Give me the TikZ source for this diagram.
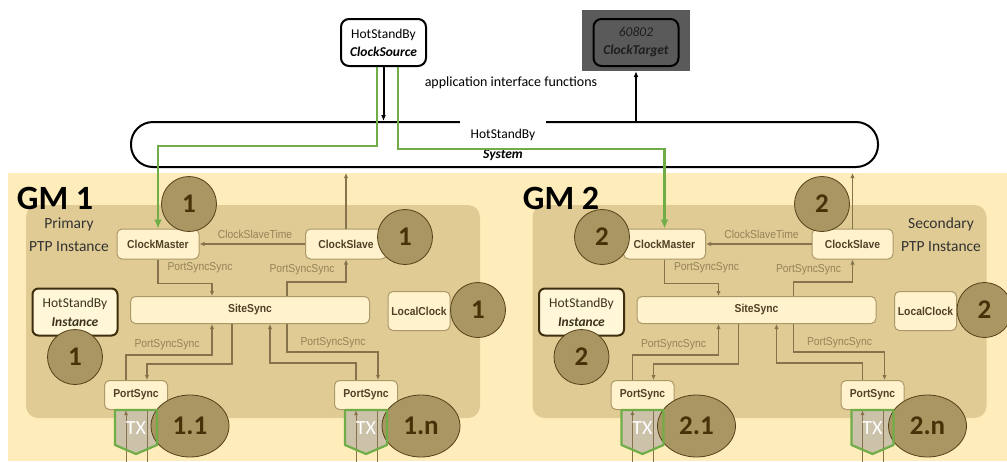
\documentclass[tikz,border=0pt]{standalone}
\usepackage{fontspec}
\setmainfont{Carlito}
\newfontfamily\arialn[FakeStretch=0.9]{Liberation Sans}
\usetikzlibrary{shapes.geometric,arrows.meta,calc}

\definecolor{bgyel}{RGB}{254,237,186}
\definecolor{panel}{RGB}{223,203,147}
\definecolor{circfill}{RGB}{170,150,98}
\definecolor{circline}{RGB}{85,65,25}
\definecolor{circtext}{RGB}{70,50,8}
\definecolor{boxfill}{RGB}{255,242,204}
\definecolor{boxline}{RGB}{172,152,104}
\definecolor{boxtext}{RGB}{80,66,40}
\definecolor{lnc}{RGB}{135,115,75}
\definecolor{lbl}{RGB}{150,130,88}
\definecolor{grn}{RGB}{112,173,71}
\definecolor{txfill}{RGB}{204,194,170}
\definecolor{tgtbg}{RGB}{90,90,90}
\definecolor{tgttext}{RGB}{30,30,30}
\definecolor{instfill}{RGB}{255,247,216}
\definecolor{instline}{RGB}{62,46,14}
\definecolor{insttext}{RGB}{60,50,30}

\tikzset{
  pbox/.style={draw=boxline, fill=boxfill, line width=1pt, rounded corners=5pt,
    text=boxtext, font=\arialn\bfseries\fontsize{11.5}{12}\selectfont, inner sep=0pt},
  numc/.style={circle, fill=circfill, draw=circline, line width=0.8pt, minimum size=55pt,
    inner sep=0pt, text=circtext, font=\bfseries\fontsize{27}{27}\selectfont},
  nume/.style={ellipse, fill=circfill, draw=circline, line width=0.8pt, minimum width=78pt,
    minimum height=62pt, inner sep=0pt, text=circtext, font=\bfseries\fontsize{27}{27}\selectfont},
  conn/.style={draw=lnc, line width=1.1pt, -{Latex[length=5pt,width=4.5pt]}},
  lab/.style={text=lbl, font=\arialn\fontsize{11.5}{12}\selectfont, inner sep=0pt},
  garrow/.style={draw=grn, line width=2.2pt, -{Latex[length=9pt,width=8pt]}},
  barrow/.style={draw=black, line width=2pt, -{Latex[length=6pt,width=5pt]}},
  instbox/.style={draw=instline, fill=instfill, line width=2pt, rounded corners=6pt,
    minimum width=85pt, minimum height=47pt, inner sep=0pt, align=center,
    text=insttext, font=\fontsize{13.5}{19}\selectfont},
  topbox/.style={draw=black, line width=2pt, rounded corners=8pt, minimum width=85pt,
    minimum height=47pt, inner sep=0pt, align=center, font=\fontsize{13.5}{18}\selectfont},
  gmtitle/.style={font=\bfseries\fontsize{34}{34}\selectfont, inner sep=0pt},
  roletext/.style={align=center, font=\fontsize{15.5}{23}\selectfont, text=black!80, inner sep=0pt},
}

\newcommand\gmpanel[3]{%
\begin{scope}[xshift=#2pt]
  \fill[panel, rounded corners=12pt] (26,205) rectangle (480,418);
  \node[pbox, minimum width=82pt, minimum height=30pt] (cm#1) at (158,244) {ClockMaster};
  \node[pbox, minimum width=81pt, minimum height=30pt] (cs#1) at (346,244) {ClockSlave};
  \node[pbox, minimum width=239pt, minimum height=27pt] (ss#1) at (250,310) {SiteSync};
  \node[pbox, minimum width=62pt, minimum height=39pt] (lc#1) at (419,311) {LocalClock};
  \node[pbox, minimum width=63pt, minimum height=29pt] (pa#1) at (136,395) {PortSync};
  \node[pbox, minimum width=63pt, minimum height=29pt] (pb#1) at (366,395) {PortSync};
  \node[instbox] (in#1) at (75,312) {HotStandBy\\\textbf{\textit{Instance}}};
  % connectors
  \draw[conn] (cs#1.west) -- (cm#1.east);
  \node[lab] (lt#1) at (255,234) {ClockSlaveTime};
  \draw[conn] (cs#1.north) -- ([yshift=-5pt]cs#1.north |- sys.south);
  \draw[conn] (cm#1.south) -- ++(0,24) -| ([xshift=-38pt]ss#1.north);
  \node[lab] (la#1) at (200,268) {PortSyncSync};
  \draw[conn] ([xshift=37pt]ss#1.north) -- ++(0,-14) -| (cs#1.south);
  \node[lab] (lb#1) at (302,270) {PortSyncSync};
  \draw[conn] ([xshift=-10pt]pa#1.north) -- ++(0,-25) -| ([xshift=-38pt]ss#1.south);
  \node[lab] (lc#1l) at (167,345) {PortSyncSync};
  \draw[conn] ([xshift=-18pt]ss#1.south) -- ++(0,40) -| ([xshift=11pt]pa#1.north);
  \draw[conn] ([xshift=37pt]ss#1.south) -- ++(0,28) -| ([xshift=12pt]pb#1.north);
  \node[lab] (ld#1) at (333,343) {PortSyncSync};
  \draw[conn] ([xshift=-10pt]pb#1.north) -- ++(0,-17) -| ([xshift=20pt]ss#1.south);
  % TX shapes
  \foreach \p in {pa,pb}{
    \fill[txfill] ([xshift=-21pt]\p#1.south) -- ++(42,0) -- ++(0,35) -- ++(-21,9) -- ++(-21,-9) -- cycle;
    \draw[lnc, line width=1pt, {Latex[length=5pt,width=4pt]}-] ([xshift=-10pt]\p#1.south) -- ++(0,55);
    \draw[lnc, line width=1pt] ([xshift=11pt]\p#1.south) -- ++(0,55);
  }
  \node[nume] (ea#1) at (190,426) {#3.1};
  \node[nume] (eb#1) at (421,426) {#3.n};
  \foreach \p in {pa,pb}{
    \draw[grn, line width=2.2pt, line join=round] ([xshift=-21pt]\p#1.south) -- ++(42,0) -- ++(0,35) -- ++(-21,9) -- ++(-21,-9) -- cycle;
    \node[text=white, font=\fontsize{20}{20}\selectfont, inner sep=0pt] (tx\p#1) at ([yshift=-18pt]\p#1.south) {TX};
  }
  \node[numc] (nl#1) at (478,310) {#3};
  \node[numc] (ni#1) at (75,357) {#3};
\end{scope}}

\begin{document}
\begin{tikzpicture}[x=1pt,y=-1pt]
\clip (0,0) rectangle (1007,461);
\fill[white] (0,0) rectangle (1007,461);
\fill[bgyel] (8,173) rectangle (1007,461);

% system box
\node[draw=black, fill=white, line width=2pt, rounded corners=22pt, minimum width=747pt,
  minimum height=45pt, inner sep=0pt] (sys) at (504.5,144.5) {};
\fill[white] (460,119) rectangle (546,126);
\node[font=\fontsize{13.5}{13.5}\selectfont, inner sep=0pt] (systop) at (503,135) {HotStandBy};
\node[font=\bfseries\itshape\fontsize{13.5}{13.5}\selectfont, inner sep=0pt] (sysbot) at (503,155) {System};

% top boxes
\node[topbox, fill=white] (csrc) at (383.5,42.5) {HotStandBy\\\textbf{\textit{ClockSource}}};
\node[fill=tgtbg, minimum width=108pt, minimum height=61pt, inner sep=0pt] (tgtbg) at (636,40.5) {};
\node[topbox, fill=tgtbg, text=tgttext] (ctgt) at (636,42.5) {\textit{60802}\\\textbf{\textit{ClockTarget}}};
\node[font=\fontsize{14}{14}\selectfont, inner sep=0pt] (aif) at (511,83) {application interface functions};
\draw[barrow] (csrc.south) -- (csrc.south |- sys.north);
\draw[barrow] (ctgt.south |- sys.north) -- (tgtbg.south);

% panels
\gmpanel{1}{0}{1}
\gmpanel{2}{506.5}{2}

\node[gmtitle] (gm1) at (55,198) {GM 1};
\node[gmtitle] (gm2) at (561,198) {GM 2};
\node[roletext] (r1) at (69,234.5) {Primary\\PTP Instance};
\node[roletext] (r2) at (941,234.5) {Secondary\\PTP Instance};

\node[numc] (c1m) at (189,204) {1};
\node[numc] (c1s) at (405,237) {1};
\node[numc] (c2m) at (602,237) {2};
\node[numc] (c2s) at (822,204) {2};

% green arrows
\draw[garrow] ([xshift=-6.5pt]csrc.south) -- ++(0,79) -| (cm1.north);
\draw[garrow] ([xshift=14.5pt]csrc.south) -- ++(0,82) -| (cm2.north);
\end{tikzpicture}
\end{document}
